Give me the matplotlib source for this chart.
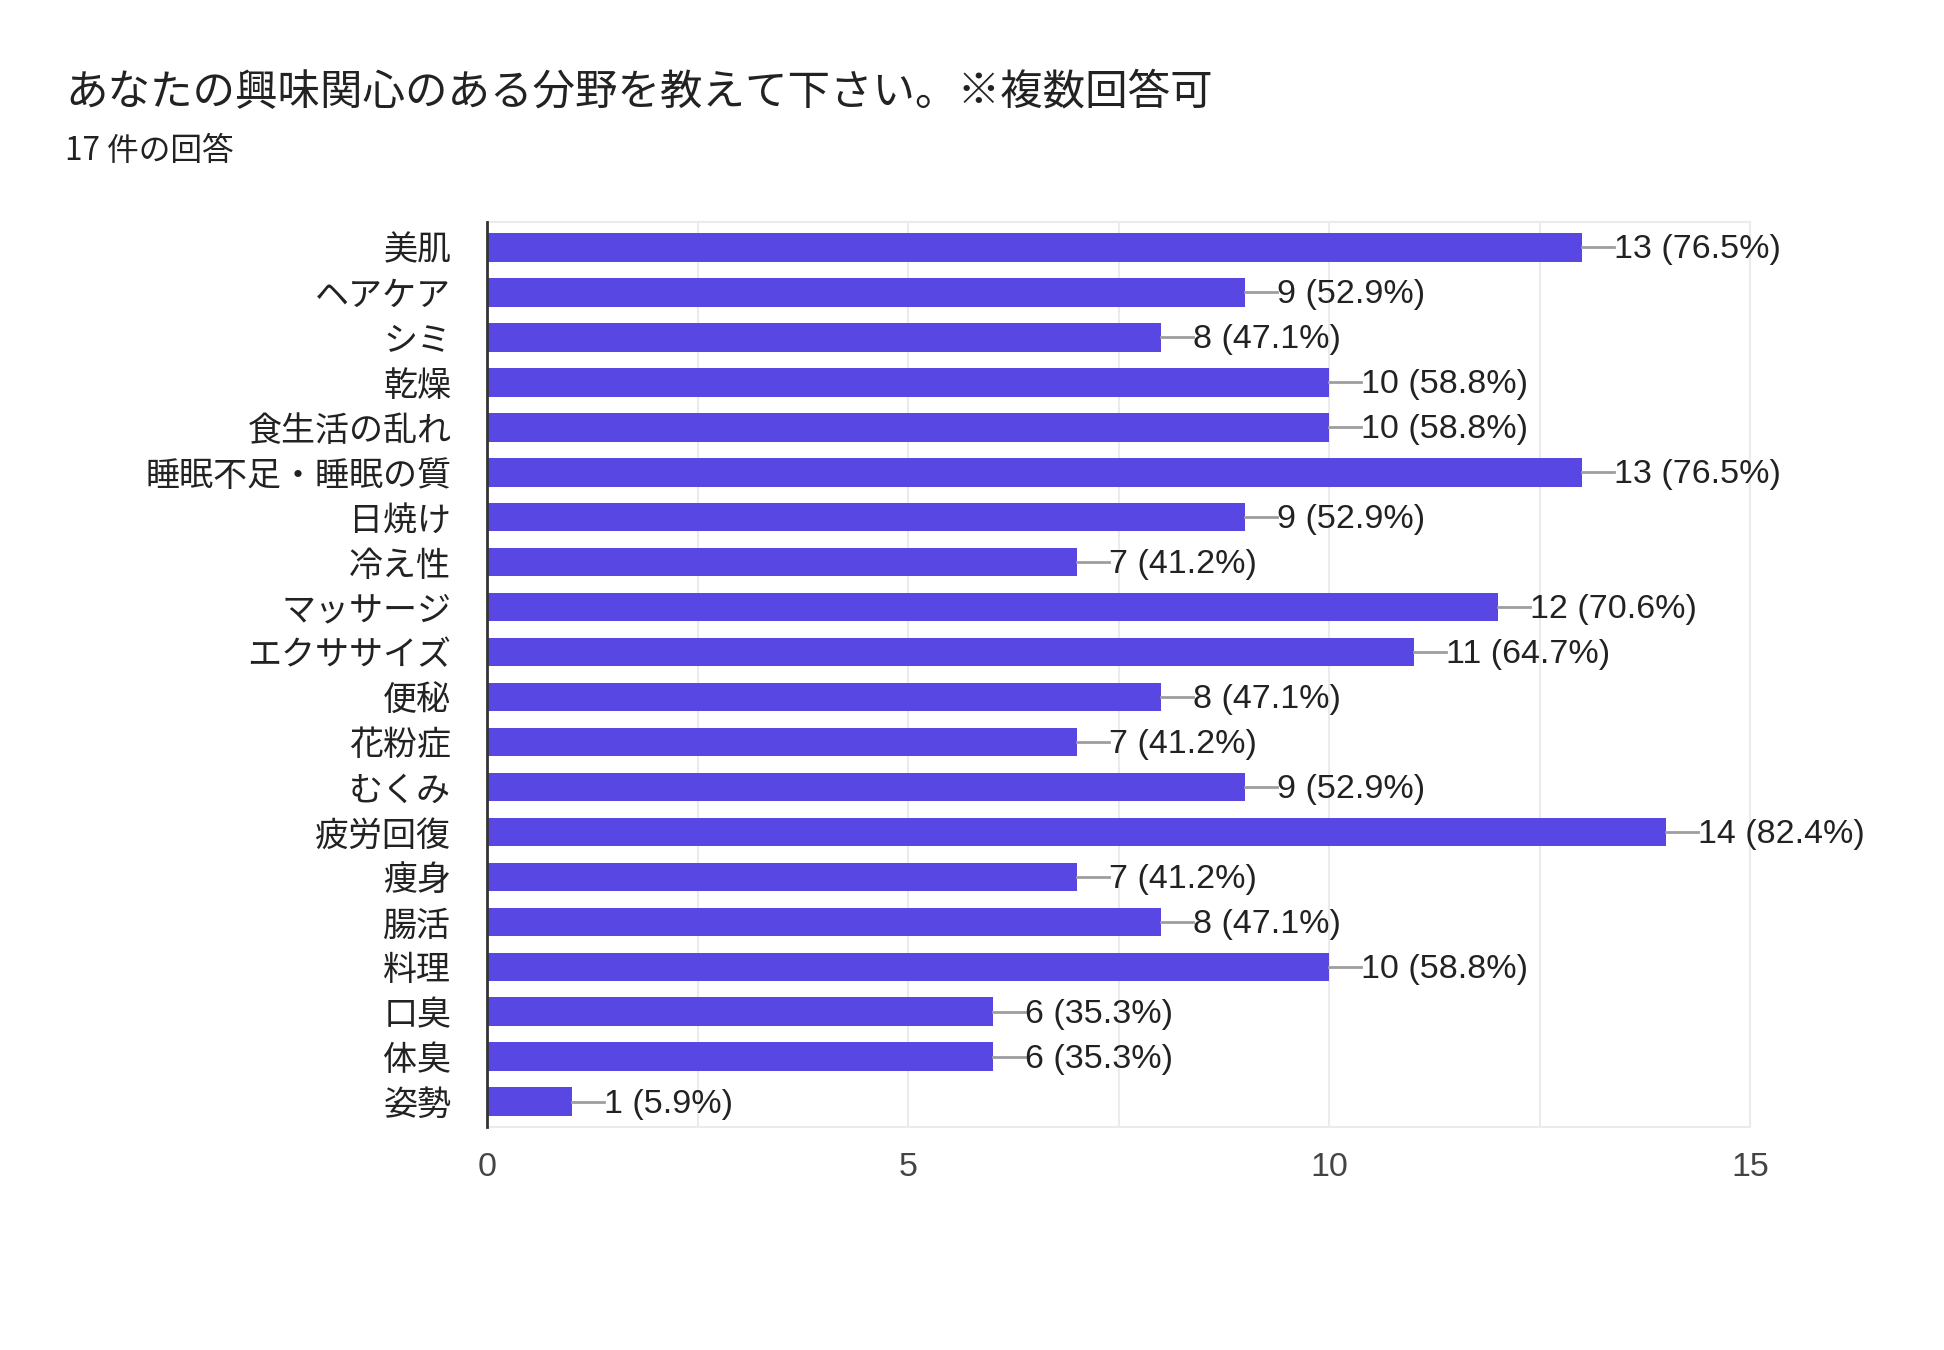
import matplotlib
matplotlib.use("Agg")
import matplotlib.pyplot as plt

plt.rcParams['font.family'] = ['Noto Sans CJK JP', 'DejaVu Sans']

title = "あなたの興味関心のある分野を教えて下さい。※複数回答可"
subtitle = "17 件の回答"
total = 17
categories = ["美肌", "ヘアケア", "シミ", "乾燥", "食生活の乱れ", "睡眠不足・睡眠の質",
              "日焼け", "冷え性", "マッサージ", "エクササイズ", "便秘", "花粉症",
              "むくみ", "疲労回復", "痩身", "腸活", "料理", "口臭", "体臭", "姿勢"]
counts = [13, 9, 8, 10, 10, 13, 9, 7, 12, 11, 8, 7, 9, 14, 7, 8, 10, 6, 6, 1]
xticks = [0, 5, 10, 15]

bar_color = "#5847e2"
text_color = "#222222"

fig = plt.figure(figsize=(19.44, 13.5), dpi=100)
ax = fig.add_axes([0.2507, 0.1655, 0.6497, 0.6697])

n = len(categories)
ypos = list(range(n))
ax.barh(ypos, counts, height=0.64, color=bar_color, zorder=3)

ax.set_ylim(n - 0.5 + 0.05, -0.5 - 0.05)
ax.set_xlim(0, 15)

for y, c in zip(ypos, counts):
    ax.plot([c, c + 0.38], [y, y], color="#9e9e9e", lw=2, zorder=3, clip_on=False)
    ax.text(c + 0.38, y + 0.05, f"{c} ({c / total * 100:.1f}%)", va="center", ha="left",
            fontsize=24.5, color=text_color, family=["Liberation Sans", "DejaVu Sans"],
            clip_on=False)

ax.set_yticks(ypos)
ax.set_yticklabels(categories, fontsize=24.5, color=text_color)
ax.set_xticks(xticks)
ax.set_xticklabels([str(t) for t in xticks], fontsize=24.5, color="#444444",
                   family=["Liberation Sans", "DejaVu Sans"])
ax.set_xticks([2.5, 7.5, 12.5], minor=True)
ax.tick_params(axis="y", length=0, pad=26)
ax.tick_params(axis="x", which="both", length=0, pad=18)

ax.grid(axis="x", which="both", color="#ebebeb", lw=1.5, zorder=0)
for side in ["top", "right", "bottom"]:
    ax.spines[side].set_color("#ebebeb")
    ax.spines[side].set_linewidth(1.5)
ax.spines["left"].set_color("#333333")
ax.spines["left"].set_linewidth(2)
ax.spines["left"].set_zorder(4)

fig.text(0.0335, 0.931, title, fontsize=30.6, color=text_color, va="center", ha="left")
fig.text(0.0335, 0.888, subtitle, fontsize=22.8, color=text_color, va="center", ha="left")

fig.savefig("out.png", dpi=100, facecolor="white")
